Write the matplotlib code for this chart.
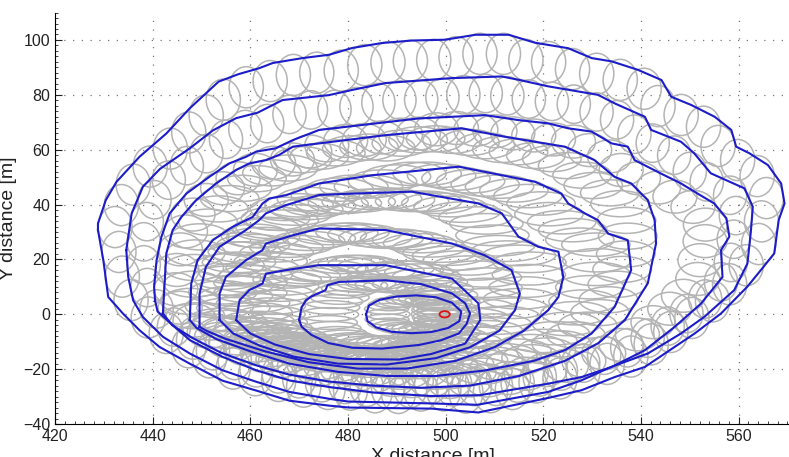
import numpy as np
import matplotlib
matplotlib.use('Agg')
import matplotlib.pyplot as plt
from matplotlib.patches import Ellipse
from matplotlib.collections import PatchCollection
from matplotlib.ticker import MultipleLocator

plt.rcParams['font.family'] = ['Liberation Sans', 'DejaVu Sans']

# fire perimeters, outermost first, (x, y) in metres
perim1 = [(428.8, 30.7), (428.8, 33.1), (430.4, 41.6), (432.6, 48.3), (437.3, 57.4), (442.8, 65.9),
          (447.6, 75.1), (453.5, 84.8), (457.5, 87.5), (461.8, 89.7), (464.6, 91.6), (470.7, 93.4),
          (476.1, 94.6), (480.9, 97.1), (487.0, 98.9), (493.1, 99.8), (499.9, 100.1), (506.1, 101.9),
          (512.9, 101.9), (518.3, 99.0), (525.1, 97.0), (529.9, 93.4), (534.0, 92.2), (539.4, 89.1),
          (544.2, 85.4), (546.2, 79.3), (550.3, 76.3), (555.1, 72.0), (558.5, 67.2), (559.5, 61.1),
          (562.2, 58.7), (566.0, 54.4), (568.7, 47.7), (569.4, 40.4), (568.2, 34.3), (567.3, 22.2),
          (564.6, 16.2), (561.8, 10.1), (556.4, 0.3), (551.0, -7.0), (546.9, -11.9), (540.8, -19.2),
          (534.6, -22.9), (527.8, -27.7), (521.0, -30.5), (506.7, -35.8), (497.2, -34.4), (480.2, -34.0),
          (476.1, -33.3), (468.0, -31.5), (461.2, -27.8), (454.3, -24.2), (447.6, -18.0), (441.4, -11.9),
          (437.3, -5.8), (433.9, 0.3), (430.9, 6.3), (429.9, 19.7)]
perim2 = [(434.6, 23.4), (435.7, 36.8), (438.0, 46.5), (441.5, 53.0), (447.6, 60.5), (452.3, 67.0),
          (457.1, 71.5), (461.5, 73.5), (466.6, 78.1), (476.1, 79.9), (480.9, 81.8), (487.7, 84.3),
          (494.5, 85.2), (501.3, 86.1), (511.5, 86.7), (514.9, 85.5), (521.0, 83.1), (531.2, 80.0),
          (534.6, 76.9), (540.8, 72.0), (542.1, 67.2), (548.2, 62.9), (550.9, 58.7), (554.3, 51.4),
          (561.2, 45.9), (562.9, 39.2), (562.5, 30.0), (561.8, 18.5), (559.1, 8.8), (553.0, -0.9),
          (548.2, -7.0), (541.4, -14.3), (533.9, -19.2), (527.8, -24.1), (521.0, -28.3), (506.5, -33.0),
          (497.0, -32.5), (480.0, -31.8), (476.1, -30.8), (468.0, -28.3), (461.2, -24.6), (454.3, -20.4),
          (447.6, -14.3), (442.1, -8.2), (438.0, -1.0), (436.0, 5.1), (435.0, 13.6)]
perim3 = [(440.5, 5.0), (440.3, 10.0), (440.8, 19.7), (441.8, 28.3), (443.5, 36.8), (446.9, 44.0),
          (451.6, 50.1), (455.7, 55.0), (459.1, 57.4), (461.2, 59.3), (465.2, 60.5), (468.7, 63.5),
          (474.1, 67.2), (484.3, 69.3), (494.5, 71.4), (508.1, 72.6), (514.9, 70.8), (521.0, 69.6),
          (525.1, 67.8), (529.9, 66.6), (534.0, 62.3), (537.3, 61.1), (538.7, 56.2), (544.1, 51.3),
          (548.2, 47.7), (551.6, 44.0), (555.0, 40.4), (557.5, 35.0), (558.1, 28.3), (556.4, 23.4),
          (556.7, 13.6), (552.3, 3.9), (546.9, -4.6), (540.8, -13.1), (534.0, -19.2), (527.8, -22.9),
          (521.0, -25.3), (507.0, -29.5), (497.0, -29.8), (485.0, -28.5), (476.1, -26.5), (468.0, -24.1),
          (461.2, -20.4), (454.3, -15.5), (447.6, -9.4), (443.5, -3.0), (441.0, 1.0)]
perim4 = [(442.1, 0.3), (442.4, 10.0), (442.8, 22.2), (444.1, 30.7), (445.9, 35.5), (448.9, 41.6),
          (453.0, 47.7), (457.1, 52.6), (459.8, 55.0), (463.2, 56.2), (465.9, 58.1), (468.7, 61.1),
          (474.1, 62.3), (487.7, 65.3), (503.3, 67.8), (512.2, 64.7), (520.3, 62.3), (524.4, 61.1),
          (530.5, 56.2), (534.6, 50.1), (538.0, 47.7), (541.4, 41.6), (542.8, 34.3), (543.1, 25.9),
          (541.4, 11.3), (536.7, -2.1), (531.2, -10.6), (524.4, -17.0), (515.0, -22.5), (505.0, -26.0),
          (495.0, -26.8), (485.0, -26.0), (476.0, -24.5), (468.0, -22.0), (461.0, -18.5), (454.0, -14.0),
          (448.0, -8.5), (444.0, -4.0)]
perim5 = [(447.6, -2.1), (447.9, 11.2), (449.2, 19.7), (452.3, 27.0), (456.4, 31.9), (460.5, 35.5),
          (462.5, 40.4), (463.9, 42.2), (467.3, 43.4), (474.1, 47.7), (485.0, 50.7), (502.7, 53.8),
          (509.5, 51.4), (518.3, 48.3), (523.7, 44.0), (525.1, 40.4), (528.5, 36.8), (531.2, 34.3),
          (533.3, 29.4), (537.3, 27.0), (538.0, 16.1), (534.6, 2.7), (529.9, -7.0), (524.4, -13.1),
          (518.0, -17.0), (508.0, -20.5), (498.0, -22.5), (488.0, -22.5), (478.0, -21.0), (468.0, -18.0),
          (460.0, -13.5), (453.0, -9.0), (449.0, -5.0)]
perim6 = [(449.6, -4.6), (449.6, 7.5), (450.9, 17.3), (453.7, 24.6), (459.1, 30.7), (461.8, 34.3),
          (463.2, 36.8), (467.3, 39.8), (474.1, 43.5), (480.9, 44.0), (493.1, 44.7), (506.7, 40.4),
          (511.5, 36.8), (514.9, 28.3), (519.0, 24.6), (523.1, 22.8), (524.1, 13.6), (523.1, 6.3),
          (521.0, 1.5), (516.0, -6.0), (510.0, -12.0), (502.0, -17.0), (492.0, -19.8), (482.0, -19.8),
          (472.0, -17.5), (463.0, -13.5), (455.0, -9.0), (451.0, -6.0)]
perim7 = [(453.7, -2.1), (453.7, 7.5), (455.0, 13.6), (459.1, 19.7), (462.5, 23.4), (463.2, 25.8),
          (468.7, 28.8), (474.1, 31.3), (487.7, 30.7), (501.3, 25.8), (508.0, 21.5), (513.5, 16.1),
          (515.2, 7.6), (514.2, 1.5), (511.0, -6.0), (505.0, -12.0), (498.0, -16.0), (488.0, -18.3),
          (478.0, -18.0), (469.0, -15.5), (462.0, -11.5), (456.5, -7.0)]
perim8 = [(457.1, -2.1), (457.8, 5.1), (459.8, 8.8), (462.5, 11.2), (463.2, 14.8), (467.3, 16.1),
          (474.1, 17.9), (487.7, 17.9), (501.3, 13.0), (506.7, 4.0), (507.1, -2.1), (504.0, -10.7),
          (497.0, -14.5), (490.4, -16.5), (480.0, -16.3), (472.0, -14.5), (465.0, -11.0), (460.0, -7.0)]
perim9 = [(470.0, -2.0), (470.5, 2.5), (471.4, 5.1), (472.5, 6.5), (475.4, 8.8), (475.8, 10.6),
          (478.2, 11.8), (487.7, 12.4), (495.0, 11.0), (501.3, 7.6), (504.0, 4.0), (505.0, 0.3),
          (504.3, -3.5), (502.7, -7.0), (499.0, -9.5), (494.5, -11.2), (487.0, -12.5), (480.9, -12.2),
          (476.0, -10.5), (472.5, -7.5), (470.5, -4.5)]
perim10 = [(483.7, 0.0), (484.3, 3.2), (486.5, 5.3), (490.0, 6.5), (494.0, 6.9), (498.0, 6.2),
           (501.3, 4.2), (503.2, 1.0), (502.8, -2.5), (500.5, -5.0), (497.0, -6.5), (493.0, -6.9),
           (489.0, -6.4), (485.8, -4.8), (484.0, -2.5)]
perimeters = [perim1, perim2, perim3, perim4, perim5, perim6, perim7, perim8, perim9, perim10]

# ignition ellipse
ignition_x, ignition_y = 499.8, 0.0
ignition_w, ignition_h = 2.1, 2.3

# grey wavelet ellipses of each ring, outer ring first (size in metres, count)
wavelet_w = [7.0, 6.8, 9.0, 12.0, 14.0, 15.0, 15.0, 14.0, 12.0, 9.0]
wavelet_h = [15.0, 14.0, 12.0, 9.5, 8.5, 7.5, 7.0, 6.0, 5.0, 4.0]
wavelet_n = [66, 64, 66, 66, 64, 60, 56, 50, 38, 24]

# screen scale (px per metre) so shapes are measured as they look
SX, SY = 4.883, 2.743


def polar(pts, cx, cy):
    p = np.asarray(pts, float)
    dx = (p[:, 0] - cx) * SX
    dy = (p[:, 1] - cy) * SY
    return np.arctan2(dy, dx), np.hypot(dx, dy)


def wavelet_centres(outer, cx, cy, w, h, n):
    # ellipses touching the outer perimeter from inside, evenly spaced along it
    th = np.linspace(-np.pi, np.pi, 721)[:-1]
    a_o, r_o = polar(outer, cx, cy)
    r_out = np.interp(th, a_o, r_o, period=2 * np.pi)
    ox, oy = r_out * np.cos(th), r_out * np.sin(th)
    seg = np.hypot(np.diff(np.append(ox, ox[0])), np.diff(np.append(oy, oy[0])))
    s = np.concatenate([[0], np.cumsum(seg)])
    t = np.linspace(0, s[-1], n, endpoint=False)
    idx = np.searchsorted(s, t).clip(0, len(th) - 1)
    A, B = w / 2 * SX, h / 2 * SY
    c, sn = np.cos(th[idx]), np.sin(th[idx])
    e = 1 / np.sqrt((c / A) ** 2 + (sn / B) ** 2)
    r = r_out[idx] - e
    return r * c / SX + cx, r * sn / SY + cy


fig = plt.figure(figsize=(7.89, 4.57), dpi=100)
ax = fig.add_axes([55 / 789, 33 / 457, 155 * SX / 789, 150 * SY / 457])

patches = []
for k, outer in enumerate(perimeters):
    if k + 1 < len(perimeters):
        inner = perimeters[k + 1]
        cx = np.mean([p[0] for p in inner])
        cy = np.mean([p[1] for p in inner])
    else:
        cx, cy = ignition_x - 6, ignition_y
    xs, ys = wavelet_centres(outer, cx, cy, wavelet_w[k], wavelet_h[k], wavelet_n[k])
    for x, y in zip(xs, ys):
        patches.append(Ellipse((x, y), wavelet_w[k], wavelet_h[k]))

ax.add_collection(PatchCollection(patches, facecolor='none', edgecolor='#b4b4b4', linewidth=1.1, zorder=2))

for per in perimeters:
    xs = [p[0] for p in per] + [per[0][0]]
    ys = [p[1] for p in per] + [per[0][1]]
    ax.plot(xs, ys, color='#1c1cc8', linewidth=1.5, zorder=3)

ax.add_patch(Ellipse((ignition_x, ignition_y), ignition_w, ignition_h, facecolor='none',
                     edgecolor='#dd1111', linewidth=1.3, zorder=4))

ax.set_xlim(420, 575)
ax.set_ylim(-40, 110)
ax.xaxis.set_minor_locator(MultipleLocator(2))
ax.yaxis.set_minor_locator(MultipleLocator(2))
ax.set_xticks(np.arange(420, 561, 20))
ax.set_yticks(np.arange(-40, 101, 20))
ax.tick_params(which='both', direction='in', labelsize=11.5, color='#222222', labelcolor='#222222')
ax.tick_params(which='major', length=5)
ax.tick_params(which='minor', length=2.5)
ax.spines['top'].set_visible(False)
ax.spines['right'].set_visible(False)
ax.grid(True, which='major', linestyle=(0, (1, 6)), color='#777777', linewidth=0.9)
ax.set_axisbelow(True)
ax.set_xlabel('X distance [m]', fontsize=14, labelpad=3, color='#222222')
ax.set_ylabel('Y distance [m]', fontsize=14, labelpad=4, color='#222222')

fig.savefig('out.png', dpi=100)
